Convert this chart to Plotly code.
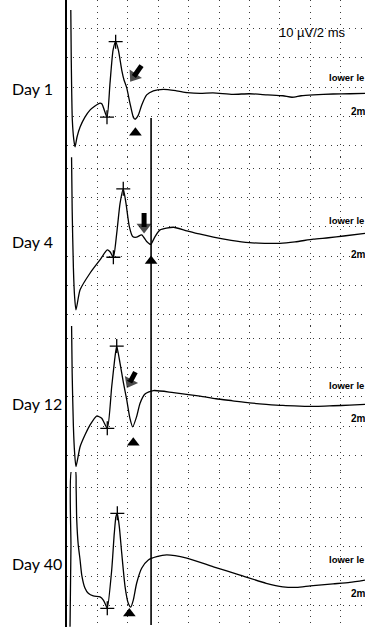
import plotly.graph_objects as go

# ---- recordings: time (ms) and amplitude (µV) for each session ----
day_labels = ["Day 1", "Day 4", "Day 12", "Day 40"]

day1_t = [0.25, 0.28, 0.35, 0.45, 0.53, 0.66, 0.86, 1.18, 1.51, 1.84, 2.17, 2.30, 2.63,
          2.83, 3.03, 3.20, 3.38, 3.60, 3.75, 3.93, 4.14, 4.36, 4.47, 4.69, 4.91, 5.24,
          5.68, 6.34, 7.20, 7.90, 8.75, 9.60, 10.90, 12.00, 13.20, 14.20, 14.80, 15.40,
          16.20, 17.50, 18.60, 19.60]
day1_v = [26.3, 9.2, -11.3, -18.1, -20.5, -17.1, -13.7, -10.3, -7.9, -6.5, -5.5, -5.8, -10.3,
          1.4, 12.6, 15.5, 12.6, 5.8, 2.4, -0.3, -5.5, -10.3, -11.0, -9.6, -6.2, -2.7,
          -1.3, -0.8, -1.3, -1.9, -2.2, -2.0, -2.5, -2.3, -2.7, -3.0, -3.5, -3.0,
          -2.7, -2.4, -2.3, -2.2]

day4_t = [0.30, 0.34, 0.42, 0.50, 0.59, 0.86, 1.51, 2.17, 2.65, 2.83, 3.05, 3.27, 3.49, 3.70,
          3.88, 4.10, 4.32, 4.58, 4.91, 5.24, 5.50, 5.79, 6.12, 7.00, 7.88, 8.70, 9.63,
          10.80, 12.00, 13.00, 14.00, 15.00, 16.20, 17.20, 18.20, 19.60]
day4_v = [24.0, 6.0, -14.0, -24.0, -28.5, -21.6, -15.9, -11.3, -7.9, -8.5, -10.4, -2.2, 8.1, 13.1,
          8.1, 0.1, -3.3, -3.5, -2.7, -5.0, -6.0, -3.3, -1.0, -0.1, -1.3, -2.4, -3.5,
          -4.6, -5.4, -5.6, -5.6, -5.1, -4.2, -3.7, -3.1, -2.2]

day12_t = [0.30, 0.34, 0.42, 0.50, 0.59, 0.86, 1.18, 1.51, 1.95, 2.28, 2.65, 2.94, 3.16, 3.27,
           3.49, 3.70, 3.93, 4.14, 4.32, 4.58, 4.80, 5.13, 5.68, 7.00, 8.75, 9.80, 10.90,
           12.00, 13.10, 14.20, 15.30, 16.40, 17.50, 18.60, 19.60]
day12_v = [25.0, 8.0, -10.0, -19.0, -23.8, -17.0, -13.0, -9.6, -6.5, -7.3, -10.7, 3.5, 13.8, 17.4,
           11.5, 5.2, -1.0, -7.3, -10.2, -6.7, -2.2, 1.0, 2.2, 1.5, 0.3, -0.6, -1.3,
           -2.0, -2.5, -2.9, -3.1, -3.2, -3.0, -2.8, -2.5]

day40_t = [0.20, 0.26, 0.30, 0.55, 0.60, 0.64, 0.74, 0.86, 0.97, 1.18, 1.40, 1.73, 2.17, 2.39,
           2.55, 2.65, 2.94, 3.11, 3.22, 3.31, 3.44, 3.60, 3.82, 4.03, 4.19, 4.36, 4.58,
           4.91, 5.35, 5.90, 6.56, 7.88, 9.63, 11.38, 13.10, 14.20, 15.10, 16.00, 17.50,
           18.60, 19.60]
day40_v = [-27.0, 0.0, 26.0, 26.0, 20.0, 9.2, 0.7, -4.4, -9.5, -13.9, -15.7, -16.6, -16.9, -18.0,
           -19.7, -20.8, -7.8, 4.6, 10.3, 11.4, 6.9, -2.1, -13.5, -19.1, -20.4, -18.0, -12.3,
           -7.2, -4.4, -3.3, -2.7, -3.8, -6.7, -9.5, -12.3, -13.5, -13.7, -13.2, -12.5,
           -12.0, -11.2]

traces_t = [day1_t, day4_t, day12_t, day40_t]
traces_v = [day1_v, day4_v, day12_v, day40_v]

# cursor "+" marks: onset and peak of the response
cursor_t = [[2.63, 3.20], [3.05, 3.70], [2.65, 3.27], [2.65, 3.31]]
cursor_v = [[-10.3, 15.5], [-10.4, 13.1], [-10.7, 17.4], [-20.8, 11.4]]

# filled triangles under the negative peak
tri_t = [4.50, 5.53, 4.36, 4.10]
tri_v = [-15.6, -11.7, -15.6, -22.5]

# bold arrows at the late component: (tail, head) in ms / µV; Day 40 has none
arrow_t = [[4.90, 4.40], [5.07, 5.07], [4.50, 4.14]]
arrow_v = [[7.3, 3.6], [4.8, 0.0], [8.5, 5.0]]

latency_ms = 5.53          # vertical latency cursor, from Day 1 (-10.6 µV) downwards
latency_top_uv = -10.6
scale_text = "10 µV/2 ms"

# ---- layout geometry ----
x_range = [0, 19.6]
x_dom = [67 / 365, 1.0]
y_domains = [[0.7496, 1.0], [0.4801, 0.7496], [0.2472, 0.4801], [0.0, 0.2472]]
y_ranges = [[-23.93, 29.74], [-34.02, 24.05], [-25.64, 24.27], [-27.12, 25.42]]
label_y = [0.8596, 0.6156, 0.3557, 0.102]
side_lower_v = [3.1, 2.1, 3.8, -4.1]
side_2m_v = [-8.5, -9.3, -7.2, -15.6]


def x_to_paper(t):
    return x_dom[0] + (t - x_range[0]) / (x_range[1] - x_range[0]) * (x_dom[1] - x_dom[0])


def y_to_paper(v, i):
    lo, hi = y_ranges[i]
    d0, d1 = y_domains[i]
    return d0 + (v - lo) / (hi - lo) * (d1 - d0)


GRID = dict(showgrid=True, gridcolor="#3a3a3a", gridwidth=1, griddash="1px,5px",
            zeroline=False, showticklabels=False, ticks="")

fig = go.Figure()
layout = dict(
    width=365, height=627,
    margin=dict(l=0, r=0, t=0, b=0),
    paper_bgcolor="white", plot_bgcolor="white",
    showlegend=False,
)

annotations = []
for i in range(4):
    sfx = "" if i == 0 else str(i + 1)
    xa, ya = "x" + sfx, "y" + sfx
    layout["xaxis" + sfx] = dict(domain=x_dom, range=x_range, dtick=2, tick0=0,
                                 anchor=ya, **GRID)
    layout["yaxis" + sfx] = dict(domain=y_domains[i], range=y_ranges[i], dtick=10, tick0=0,
                                 anchor=xa, showline=True, linecolor="black", linewidth=1.6,
                                 **GRID)

    fig.add_trace(go.Scatter(x=traces_t[i], y=traces_v[i], mode="lines",
                             line=dict(color="black", width=1.3, shape="spline", smoothing=0.6),
                             xaxis=xa, yaxis=ya, hoverinfo="skip"))
    fig.add_trace(go.Scatter(x=cursor_t[i], y=cursor_v[i], mode="markers",
                             marker=dict(symbol="cross-thin", size=10,
                                         line=dict(color="black", width=1.3)),
                             xaxis=xa, yaxis=ya, hoverinfo="skip"))
    fig.add_trace(go.Scatter(x=[tri_t[i]], y=[tri_v[i]], mode="markers",
                             marker=dict(symbol="triangle-up", size=11, color="black"),
                             xaxis=xa, yaxis=ya, hoverinfo="skip"))

    if i < len(arrow_t):
        # thick shaft with a triangular head oriented along the shaft
        fig.add_trace(go.Scatter(x=arrow_t[i], y=arrow_v[i], mode="lines+markers",
                                 line=dict(color="black", width=5),
                                 marker=dict(symbol="triangle-up", size=[0, 13],
                                             angleref="previous", color="black",
                                             line=dict(width=0)),
                                 xaxis=xa, yaxis=ya, hoverinfo="skip"))

    annotations.append(dict(x=0.027, y=label_y[i], xref="paper", yref="paper",
                            text=day_labels[i], showarrow=False, xanchor="left",
                            yanchor="middle",
                            font=dict(family="Lato", size=16, color="black")))
    annotations.append(dict(x=17.1, y=side_lower_v[i], xref=xa, yref=ya,
                            text="<b>lower le</b>", showarrow=False, xanchor="left",
                            yanchor="middle",
                            font=dict(family="Liberation Sans", size=9.5, color="black")))
    annotations.append(dict(x=18.55, y=side_2m_v[i], xref=xa, yref=ya,
                            text="<b>2m</b>", showarrow=False, xanchor="left",
                            yanchor="middle",
                            font=dict(family="Liberation Sans", size=10, color="black")))

annotations.append(dict(x=13.8, y=18.5, xref="x", yref="y", text=scale_text,
                        showarrow=False, xanchor="left", yanchor="middle",
                        font=dict(family="Liberation Sans", size=13, color="black")))

layout["annotations"] = annotations
lx = x_to_paper(latency_ms)
layout["shapes"] = [dict(type="line", xref="paper", yref="paper", x0=lx, x1=lx,
                         y0=0.003, y1=y_to_paper(latency_top_uv, 0),
                         line=dict(color="black", width=1.6), layer="above")]

fig.update_layout(**layout)
fig.write_html("out.html")
